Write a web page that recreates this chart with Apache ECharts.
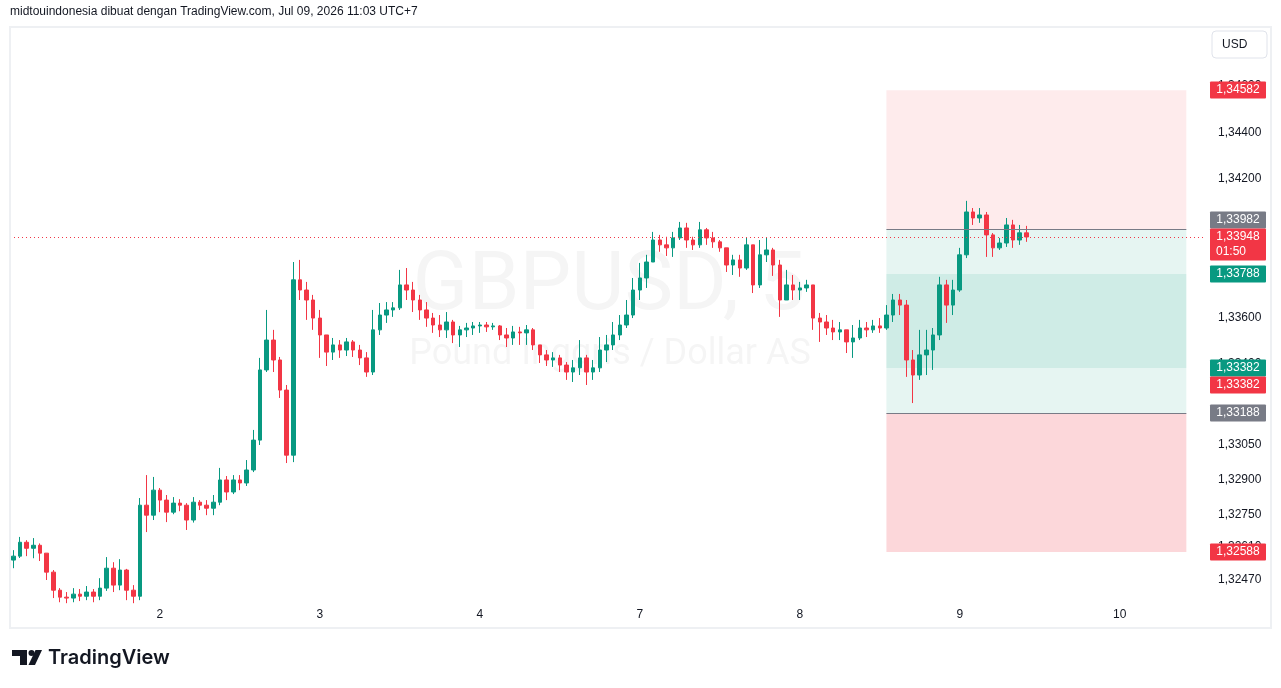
<!DOCTYPE html>
<html>
<head>
<meta charset="utf-8">
<title>GBPUSD, 5</title>
<script src="https://cdn.jsdelivr.net/npm/echarts@6/dist/echarts.min.js"></script>
<style>
  html, body { margin: 0; padding: 0; background: #fff; }
  #chart { width: 1281px; height: 688px; }
</style>
</head>
<body>
<div id="chart"></div>
<script>
// day slots on the time axis (candles per day shown)
const days = ['1', '2', '3', '4', '7', '8', '9', '10']
const dayCandles = [22, 24, 24, 24, 24, 24, 24, 13]

// candles, open = previous close
const firstOpen = 1.32553
const closes = [
  1.32570, 1.32630, 1.32604, 1.32617, 1.32583, 1.32501, 1.32423, 1.32393, 1.32389, 1.32406,
  1.32397, 1.32415, 1.32397, 1.32432, 1.32518, 1.32445, 1.32510, 1.32423, 1.32397, 1.32790,
  1.32747, 1.32855, 1.32812, 1.32760, 1.32799, 1.32790, 1.32726, 1.32803, 1.32790, 1.32777,
  1.32803, 1.32899, 1.32847, 1.32899, 1.32886, 1.32942, 1.33071, 1.33374, 1.33503, 1.33417,
  1.33287, 1.33006, 1.33763, 1.33719, 1.33676, 1.33598, 1.33525, 1.33451, 1.33482, 1.33460,
  1.33495, 1.33460, 1.33426, 1.33365, 1.33547, 1.33611, 1.33633, 1.33642, 1.33741, 1.33719,
  1.33676, 1.33633, 1.33598, 1.33568, 1.33547, 1.33581, 1.33525, 1.33547, 1.33555, 1.33564,
  1.33568, 1.33560, 1.33564, 1.33525, 1.33512, 1.33538, 1.33534, 1.33547, 1.33482, 1.33439,
  1.33417, 1.33426, 1.33395, 1.33365, 1.33383, 1.33426, 1.33365, 1.33383, 1.33460, 1.33482,
  1.33525, 1.33568, 1.33611, 1.33719, 1.33771, 1.33840, 1.33935, 1.33914, 1.33901, 1.33944,
  1.33987, 1.33935, 1.33914, 1.33979, 1.33944, 1.33927, 1.33901, 1.33827, 1.33849, 1.33814,
  1.33914, 1.33741, 1.33871, 1.33892, 1.33827, 1.33676, 1.33741, 1.33719, 1.33728, 1.33741,
  1.33598, 1.33581, 1.33555, 1.33538, 1.33547, 1.33495, 1.33512, 1.33555, 1.33547, 1.33564,
  1.33555, 1.33611, 1.33676, 1.33654, 1.33417, 1.33352, 1.33439, 1.33460, 1.33525, 1.33741,
  1.33654, 1.33719, 1.33871, 1.34056, 1.34030, 1.34043, 1.33957, 1.33901, 1.33922, 1.34000,
  1.33935, 1.33966, 1.33948
]
const highs = [
  1.32596, 1.32653, 1.32639, 1.32648, 1.32625, 1.32583, 1.32510, 1.32432, 1.32415, 1.32432,
  1.32428, 1.32441, 1.32428, 1.32475, 1.32566, 1.32544, 1.32557, 1.32515, 1.32445, 1.32821,
  1.32920, 1.32912, 1.32864, 1.32834, 1.32825, 1.32816, 1.32799, 1.32825, 1.32812, 1.32812,
  1.32834, 1.32951, 1.32916, 1.32920, 1.32920, 1.32985, 1.33115, 1.33426, 1.33633, 1.33547,
  1.33430, 1.33309, 1.33840, 1.33849, 1.33754, 1.33698, 1.33633, 1.33525, 1.33512, 1.33503,
  1.33512, 1.33503, 1.33482, 1.33451, 1.33633, 1.33663, 1.33667, 1.33667, 1.33806, 1.33814,
  1.33754, 1.33698, 1.33667, 1.33620, 1.33611, 1.33624, 1.33590, 1.33564, 1.33577, 1.33581,
  1.33581, 1.33581, 1.33577, 1.33568, 1.33555, 1.33564, 1.33560, 1.33568, 1.33555, 1.33482,
  1.33460, 1.33451, 1.33439, 1.33408, 1.33417, 1.33503, 1.33439, 1.33417, 1.33516, 1.33525,
  1.33581, 1.33611, 1.33676, 1.33771, 1.33836, 1.33871, 1.33970, 1.33957, 1.33949, 1.33970,
  1.34013, 1.34009, 1.33949, 1.34013, 1.33987, 1.33970, 1.33935, 1.33901, 1.33871, 1.33871,
  1.33944, 1.33914, 1.33935, 1.33944, 1.33901, 1.33849, 1.33806, 1.33784, 1.33754, 1.33763,
  1.33741, 1.33620, 1.33611, 1.33590, 1.33581, 1.33547, 1.33568, 1.33590, 1.33581, 1.33590,
  1.33598, 1.33654, 1.33702, 1.33702, 1.33676, 1.33460, 1.33547, 1.33547, 1.33555, 1.33776,
  1.33763, 1.33763, 1.33901, 1.34104, 1.34073, 1.34073, 1.34056, 1.33965, 1.33944, 1.34030,
  1.34022, 1.34000, 1.33996
]
const lows = [
  1.32518, 1.32562, 1.32570, 1.32561, 1.32549, 1.32467, 1.32389, 1.32371, 1.32367, 1.32371,
  1.32376, 1.32380, 1.32371, 1.32380, 1.32420, 1.32415, 1.32423, 1.32380, 1.32367, 1.32380,
  1.32674, 1.32726, 1.32760, 1.32717, 1.32751, 1.32764, 1.32683, 1.32715, 1.32769, 1.32747,
  1.32747, 1.32790, 1.32812, 1.32838, 1.32855, 1.32873, 1.32933, 1.33050, 1.33365, 1.33365,
  1.33253, 1.32972, 1.32976, 1.33676, 1.33590, 1.33547, 1.33426, 1.33391, 1.33417, 1.33426,
  1.33434, 1.33430, 1.33395, 1.33344, 1.33352, 1.33525, 1.33577, 1.33603, 1.33633, 1.33676,
  1.33624, 1.33590, 1.33560, 1.33534, 1.33516, 1.33512, 1.33490, 1.33473, 1.33516, 1.33525,
  1.33534, 1.33538, 1.33547, 1.33503, 1.33473, 1.33482, 1.33482, 1.33482, 1.33460, 1.33404,
  1.33391, 1.33387, 1.33365, 1.33331, 1.33322, 1.33352, 1.33309, 1.33331, 1.33365, 1.33408,
  1.33460, 1.33503, 1.33555, 1.33598, 1.33676, 1.33728, 1.33840, 1.33884, 1.33866, 1.33862,
  1.33935, 1.33901, 1.33892, 1.33901, 1.33914, 1.33901, 1.33884, 1.33797, 1.33784, 1.33776,
  1.33806, 1.33706, 1.33728, 1.33840, 1.33780, 1.33603, 1.33676, 1.33676, 1.33676, 1.33711,
  1.33547, 1.33495, 1.33525, 1.33503, 1.33503, 1.33447, 1.33426, 1.33503, 1.33516, 1.33534,
  1.33534, 1.33547, 1.33581, 1.33611, 1.33344, 1.33231, 1.33331, 1.33352, 1.33374, 1.33503,
  1.33577, 1.33611, 1.33711, 1.33857, 1.34000, 1.34009, 1.33862, 1.33862, 1.33892, 1.33905,
  1.33901, 1.33914, 1.33927
]

// price scale labels
const yTicks = [1.3247, 1.3261, 1.3275, 1.329, 1.3305, 1.334, 1.336, 1.342, 1.344, 1.346]
const yMin = 1.323807
const yMax = 1.348503

// position tools (short + long)
const shortEntry = 1.33982, shortStop = 1.34582, shortTarget = 1.33382
const longEntry = 1.33188, longStop = 1.32588, longTarget = 1.33788
const posFrom = 131, posTo = 176
const lastPrice = 1.33948

// price tags on the right scale
const tagValues = [1.34582, 1.33982, 1.33948, 1.33788, 1.33382, 1.33382, 1.33188, 1.32588]
const tagColors = ['#f23645', '#787b86', '#f23645', '#089981', '#089981', '#f23645', '#787b86', '#f23645']
const tagShift = [0, -9, 0, 0, 0, 17, 0, 0]
const tagSub = ['', '', '01:50', '', '', '', '', '']

const UP = '#089981'
const DOWN = '#f23645'
const FONT = '"Liberation Sans", Arial, sans-serif'

const fmt = (v) => v.toFixed(5).replace('.', ',')

const initChart = () => {
  const chart = echarts.init(document.getElementById('chart'), null, { renderer: 'canvas' })

  const cats = []
  days.forEach((d, k) => {
    const n = dayCandles[k]
    const start = k === 0 ? 24 - n : 0
    for (let h = 0; h < n; h++) cats.push(d + '|' + (start + h))
  })

  const candles = closes.map((c, i) => [i === 0 ? firstOpen : closes[i - 1], c, lows[i], highs[i]])

  const zone = (from, to, color) => [
    { coord: [posFrom, from], itemStyle: { color } },
    { coord: [posTo, to] },
  ]

  chart.setOption({
    animation: false,
    backgroundColor: '#fff',
    grid: { left: 10, right: 78, top: 28, bottom: 88 },
    xAxis: {
      type: 'category',
      data: cats,
      boundaryGap: true,
      axisLine: { show: false },
      axisTick: { show: false },
      splitLine: { show: false },
      axisLabel: {
        interval: 0,
        margin: 9,
        color: '#131722',
        fontSize: 12,
        fontFamily: FONT,
        formatter: (v) => {
          const p = v.split('|')
          return p[1] === '0' ? p[0] : ''
        },
      },
    },
    yAxis: {
      type: 'value',
      position: 'right',
      scale: true,
      min: yMin,
      max: yMax,
      axisLine: { show: false },
      axisTick: { show: false },
      splitLine: { show: false },
      axisLabel: {
        customValues: yTicks,
        margin: 15,
        color: '#131722',
        fontSize: 12,
        fontFamily: FONT,
        formatter: (v) => fmt(v),
      },
    },
    series: [
      {
        type: 'candlestick',
        data: candles,
        barWidth: 4,
        itemStyle: {
          color: UP,
          color0: DOWN,
          borderColor: UP,
          borderColor0: DOWN,
          borderWidth: 1,
        },
        markArea: {
          silent: true,
          data: [
            zone(shortStop, shortEntry, 'rgba(242,54,69,0.10)'),
            zone(shortEntry, shortTarget, 'rgba(8,153,129,0.10)'),
            zone(longTarget, longEntry, 'rgba(8,153,129,0.10)'),
            zone(longEntry, longStop, 'rgba(242,54,69,0.20)'),
          ],
        },
        markLine: {
          silent: true,
          symbol: 'none',
          label: { show: false },
          data: [
            [
              { coord: [posFrom, shortEntry], lineStyle: { color: '#787b86', width: 1, type: 'solid' } },
              { coord: [posTo, shortEntry] },
            ],
            [
              { coord: [posFrom, longEntry], lineStyle: { color: '#787b86', width: 1, type: 'solid' } },
              { coord: [posTo, longEntry] },
            ],
          ],
        },
      },
    ],
  })

  const toY = (v) => chart.convertToPixel({ yAxisIndex: 0 }, v)

  const graphics = [
    // watermark
    {
      type: 'text', z: -1, x: 609, y: 288, silent: true,
      style: { text: 'GBPUSD, 5', fill: 'rgba(19,23,34,0.045)', font: '82px Roboto, sans-serif', align: 'center', verticalAlign: 'middle' },
    },
    {
      type: 'text', z: -1, x: 610, y: 355, silent: true,
      style: { text: 'Pound Inggris / Dollar AS', fill: 'rgba(19,23,34,0.045)', font: '36px Roboto, sans-serif', align: 'center', verticalAlign: 'middle' },
    },
    // last price dotted line
    {
      type: 'line', z: 40, silent: true,
      shape: { x1: 10, y1: Math.round(toY(lastPrice)) + 0.5, x2: 1203, y2: Math.round(toY(lastPrice)) + 0.5 },
      style: { stroke: DOWN, lineWidth: 1, lineDash: [1, 3] },
    },
    // frame
    {
      type: 'rect', z: 50, silent: true,
      shape: { x: 10, y: 27, width: 1261, height: 601 },
      style: { fill: 'none', stroke: '#eef0f3', lineWidth: 2 },
    },
    // header
    {
      type: 'text', x: 10, y: 12,
      style: { text: 'midtouindonesia dibuat dengan TradingView.com, Jul 09, 2026 11:03 UTC+7', fill: '#131722', font: '12px ' + FONT, verticalAlign: 'middle' },
    },
    // currency button
    {
      type: 'rect', z: 60,
      shape: { x: 1212, y: 31, width: 55, height: 27, r: 4 },
      style: { fill: '#fff', stroke: '#e0e3eb', lineWidth: 1 },
    },
    {
      type: 'text', z: 61, x: 1222, y: 45,
      style: { text: 'USD', fill: '#131722', font: '12px ' + FONT, verticalAlign: 'middle' },
    },
    // logo
    { type: 'rect', shape: { x: 12, y: 650, width: 15, height: 6 }, style: { fill: '#131722' } },
    { type: 'rect', shape: { x: 20, y: 650, width: 7, height: 15 }, style: { fill: '#131722' } },
    { type: 'circle', shape: { cx: 31.5, cy: 653, r: 3 }, style: { fill: '#131722' } },
    { type: 'polygon', shape: { points: [[35.5, 650], [42, 650], [35, 665], [28.5, 665]] }, style: { fill: '#131722' } },
    {
      type: 'text', x: 48, y: 658,
      style: { text: 'TradingView', fill: '#131722', font: '600 20px Inter, sans-serif', verticalAlign: 'middle' },
    },
  ]

  // price tags placed through the y scale
  tagValues.forEach((v, k) => {
    const y = Math.round(toY(v)) + tagShift[k]
    const two = tagSub[k] !== ''
    graphics.push({
      type: 'rect', z: 80,
      shape: { x: 1210, y: y - 8.5, width: 56, height: two ? 32 : 17, r: 1 },
      style: { fill: tagColors[k] },
    })
    graphics.push({
      type: 'text', z: 81, x: 1238, y: y,
      style: { text: fmt(v), fill: '#fff', font: '12px ' + FONT, align: 'center', verticalAlign: 'middle' },
    })
    if (two) {
      graphics.push({
        type: 'text', z: 81, x: 1216, y: y + 15,
        style: { text: tagSub[k], fill: '#fff', font: '12px ' + FONT, verticalAlign: 'middle' },
      })
    }
  })

  chart.setOption({ graphic: graphics })
}

initChart()
</script>
</body>
</html>
